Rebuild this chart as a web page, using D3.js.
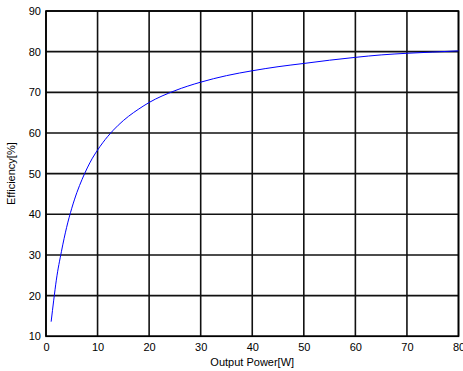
<!DOCTYPE html>
<html><head><meta charset="utf-8">
<script src="https://cdn.jsdelivr.net/npm/d3@7"></script>
<style>body{margin:0;background:#fff}svg{display:block}text{font-family:"Liberation Sans",Arial,sans-serif;font-size:11px;fill:#000}</style>
</head><body>
<svg id="c" width="463" height="371"></svg>
<script>
const powerW = [1,1.5,2,3,4,5,6,7,8,9,10,12,14,16,18,20,25,30,35,40,45,50,55,60,65,70,75,80];
const efficiency = [13.6,18.9,23.8,30.9,36.8,41.5,45.4,48.6,51.4,53.8,55.8,59.2,61.9,64.1,65.9,67.5,70.4,72.5,74.1,75.3,76.3,77.1,77.9,78.6,79.2,79.6,79.9,80.2];
const xTicks = [0,10,20,30,40,50,60,70,80];
const yTicks = [10,20,30,40,50,60,70,80,90];

const L=46,R=458.5,T=11,B=336.3;
const svg=d3.select('#c');
const x=d3.scaleLinear().domain([0,80]).range([L,R]);
const y=d3.scaleLinear().domain([10,90]).range([B,T]);

// grid
svg.append('g').selectAll('line').data(xTicks).join('line')
 .attr('x1',d=>x(d)).attr('x2',d=>x(d)).attr('y1',T).attr('y2',B)
 .attr('stroke','#111').attr('stroke-width',1.6);
svg.append('g').selectAll('line').data(yTicks).join('line')
 .attr('y1',d=>y(d)).attr('y2',d=>y(d)).attr('x1',L).attr('x2',R)
 .attr('stroke','#111').attr('stroke-width',1.6);

// axes labels
const xa=d3.axisBottom(x).tickValues(xTicks).tickSize(0).tickPadding(7);
svg.append('g').attr('transform',`translate(0,${B})`).call(xa)
 .call(g=>{g.select('.domain').remove();g.selectAll('text').style('font-size','11px');});
const ya=d3.axisLeft(y).tickValues(yTicks).tickSize(0).tickPadding(5);
svg.append('g').attr('transform',`translate(${L},0)`).call(ya)
 .call(g=>{g.select('.domain').remove();g.selectAll('text').style('font-size','11px');});

// frame
svg.append('rect').attr('x',L).attr('y',T).attr('width',R-L).attr('height',B-T)
 .attr('fill','none').attr('stroke','#000').attr('stroke-width',1.6);

// curve
svg.append('path').datum(powerW.map((p,i)=>[p,efficiency[i]]))
 .attr('d',d3.line().x(d=>x(d[0])).y(d=>y(d[1])).curve(d3.curveMonotoneX))
 .attr('fill','none').attr('stroke','#0000ff').attr('stroke-width',1);

svg.append('text').attr('x',(L+R)/2).attr('y',366).attr('text-anchor','middle').text('Output Power[W]');
svg.append('text').attr('transform',`translate(15,${(T+B)/2}) rotate(-90)`).attr('text-anchor','middle').text('Efficiency[%]');
</script>
</body></html>
